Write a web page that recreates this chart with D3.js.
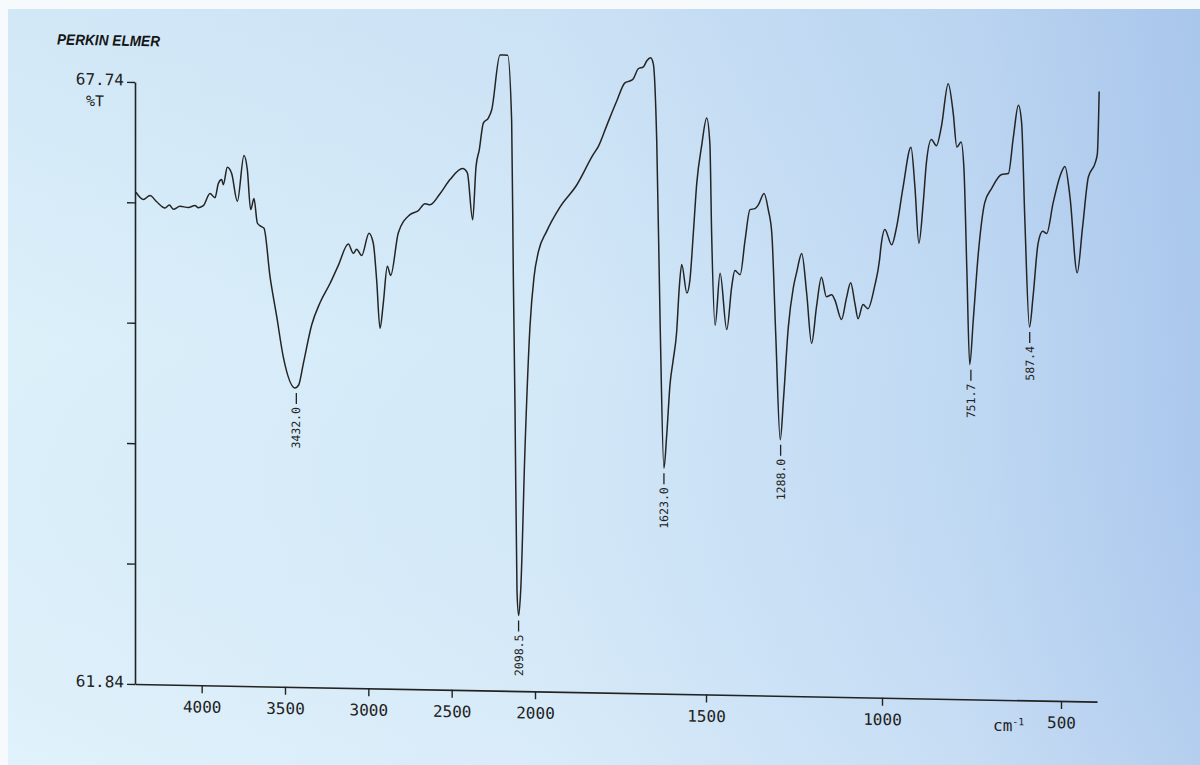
<!DOCTYPE html>
<html>
<head>
<meta charset="utf-8">
<script src="https://cdn.jsdelivr.net/npm/d3@7"></script>
<style>
  body { margin: 0; background: #fff; }
  svg { display: block; }
</style>
</head>
<body>
<svg id="chart"></svg>
<script>
// IR spectrum: wavenumber (cm-1) and %T
const wavenumbers = [
  4394, 4350, 4310, 4270, 4220, 4194, 4170, 4130, 4080, 4040, 4020, 3990,
  3950, 3920, 3900, 3880, 3870, 3846, 3820, 3786, 3746, 3726, 3706, 3686,
  3666, 3646, 3626, 3590, 3550, 3510, 3440, 3418, 3390, 3340, 3290, 3230,
  3180, 3120, 3090, 3070, 3040, 2996, 2970, 2950, 2930, 2910, 2886, 2866,
  2820, 2750, 2700, 2660, 2630, 2570, 2510, 2434, 2406, 2374, 2354, 2334,
  2310, 2280, 2260, 2210, 2164, 2140, 2130, 2120, 2108, 2098, 2086, 2060,
  2030, 2006, 1990, 1966, 1927, 1878, 1830, 1815, 1790, 1761, 1737, 1722,
  1713, 1698, 1683, 1673, 1662, 1654, 1644, 1634, 1623, 1615, 1605, 1596,
  1586, 1578, 1571, 1556, 1547, 1537, 1527, 1513, 1498, 1489, 1484, 1474,
  1460, 1441, 1427, 1418, 1403, 1389, 1375, 1361, 1351, 1335, 1323, 1313,
  1302, 1289, 1280, 1266, 1252, 1242, 1228, 1214, 1200, 1186, 1172, 1158,
  1143, 1134, 1115, 1101, 1089, 1077, 1068, 1054, 1040, 1021, 1007, 1003,
  992, 973, 959, 941, 919, 908, 897, 885, 876, 862, 848, 834,
  815, 801, 791, 779, 771, 763, 755, 745, 731, 713, 694, 666,
  647, 633, 619, 610, 601, 588, 578, 564, 551, 540, 522, 503,
  489, 475, 455, 440, 424, 405, 399, 394
];
const transmittance = [
  66.66, 66.59, 66.63, 66.57, 66.51, 66.54, 66.50, 66.53, 66.52, 66.54, 66.52, 66.54,
  66.66, 66.62, 66.76, 66.80, 66.75, 66.92, 66.86, 66.59, 67.04, 66.90, 66.51, 66.62,
  66.38, 66.35, 66.33, 65.86, 65.47, 65.07, 64.77, 64.80, 65.01, 65.39, 65.61, 65.80,
  65.98, 66.19, 66.10, 66.14, 66.08, 66.30, 66.20, 65.84, 65.37, 65.62, 65.98, 65.89,
  66.31, 66.49, 66.53, 66.60, 66.59, 66.70, 66.84, 66.95, 66.91, 66.45, 66.97, 67.14,
  67.40, 67.45, 67.53, 68.07, 68.07, 67.42, 65.90, 64.62, 62.82, 62.58, 62.82, 64.22,
  65.42, 65.90, 66.15, 66.35, 66.59, 66.81, 67.11, 67.19, 67.40, 67.64, 67.82, 67.84,
  67.86, 67.96, 67.98, 68.04, 68.07, 68.01, 67.25, 65.45, 64.05, 64.37, 64.88, 65.11,
  65.38, 65.83, 66.05, 65.77, 65.90, 66.36, 66.85, 67.21, 67.49, 67.24, 66.36, 65.46,
  65.97, 65.42, 65.84, 66.00, 65.96, 66.30, 66.60, 66.61, 66.65, 66.76, 66.60, 66.37,
  65.39, 64.35, 64.74, 65.46, 65.84, 66.00, 66.18, 65.79, 65.30, 65.66, 65.95, 65.76,
  65.78, 65.73, 65.54, 65.75, 65.90, 65.70, 65.55, 65.69, 65.65, 65.87, 66.13, 66.26,
  66.43, 66.28, 66.46, 66.85, 67.24, 66.85, 66.30, 66.69, 67.09, 67.32, 67.26, 67.45,
  67.87, 67.58, 67.25, 67.30, 67.03, 66.05, 65.12, 65.56, 66.21, 66.71, 66.85, 66.99,
  67.00, 67.36, 67.67, 67.50, 66.55, 65.50, 65.80, 66.32, 66.44, 66.42, 66.72, 66.98,
  67.08, 66.78, 66.04, 66.49, 66.98, 67.12, 67.21, 67.82
];

const peakWavenumbers = [3432.0, 2098.5, 1623.0, 1288.0, 751.7, 587.4];
const peakLabels = ["3432.0", "2098.5", "1623.0", "1288.0", "751.7", "587.4"];

const xTicks = [4000, 3500, 3000, 2500, 2000, 1500, 1000, 500];
const yTicks = [67.74, 66.56, 65.38, 64.20, 63.02, 61.84];
const yLabelled = [67.74, 61.84];

const width = 1200;
const height = 765;
const mono = "'DejaVu Sans Mono', monospace";
const ink = "#222";

const svg = d3.select("#chart").attr("width", width).attr("height", height);

// paper background (photo of a blueish printout)
const defs = svg.append("defs");
const hGrad = defs.append("linearGradient").attr("id", "paper").attr("x1", 0).attr("x2", 1).attr("y1", 0).attr("y2", 0);
[[0, "#dcf0fa"], [0.45, "#d4e9f8"], [0.8, "#c0d9f3"], [1, "#abc8ed"]].forEach(([o, c]) =>
  hGrad.append("stop").attr("offset", o).attr("stop-color", c));
const vGrad = defs.append("linearGradient").attr("id", "shade").attr("x1", 0).attr("x2", 0).attr("y1", 0).attr("y2", 1);
vGrad.append("stop").attr("offset", 0).attr("stop-color", "#9dbbe4").attr("stop-opacity", 0.16);
vGrad.append("stop").attr("offset", 0.45).attr("stop-color", "#9dbbe4").attr("stop-opacity", 0);
vGrad.append("stop").attr("offset", 1).attr("stop-color", "#ffffff").attr("stop-opacity", 0.12);

svg.append("rect").attr("width", width).attr("height", height).attr("fill", "url(#paper)");
svg.append("rect").attr("width", width).attr("height", height).attr("fill", "url(#shade)");
svg.append("rect").attr("width", 8).attr("height", height).attr("fill", "#f6fafd");
svg.append("rect").attr("width", width).attr("height", 9).attr("fill", "#f6fafd");

const x = d3.scaleLinear()
  .domain([4400, 2000, 1500, 1000, 500, 400])
  .range([135, 535, 706, 882, 1061, 1097]);

const y = d3.scaleLinear().domain([61.84, 67.74]).range([684, 82]);

// the sheet sits slightly askew in the photo
const g = svg.append("g")
  .attr("transform", "translate(135,684) skewY(1.05) translate(-135,-684)");

g.append("text")
  .attr("x", 57).attr("y", 46)
  .attr("font-family", "'Liberation Sans', Arial, sans-serif")
  .attr("font-weight", "bold").attr("font-style", "italic")
  .attr("font-size", 15).attr("textLength", 103).attr("lengthAdjust", "spacingAndGlyphs")
  .attr("fill", "#151515")
  .text("PERKIN ELMER");

const xAxis = d3.axisBottom(x)
  .tickValues(xTicks)
  .tickSize(8).tickSizeOuter(0).tickPadding(8)
  .tickFormat(d3.format("d"));

const yAxis = d3.axisLeft(y)
  .tickValues(yTicks)
  .tickSize(8).tickSizeOuter(0).tickPadding(3)
  .tickFormat((d) => (yLabelled.includes(d) ? d.toFixed(2) : ""));

const gx = g.append("g").attr("transform", `translate(0,${y(61.84)})`).call(xAxis);
const gy = g.append("g").attr("transform", `translate(${x(4400)},0)`).call(yAxis);

[gx, gy].forEach((ax) => {
  ax.select(".domain").attr("stroke", ink).attr("stroke-width", 1.6);
  ax.selectAll(".tick line").attr("stroke", ink).attr("stroke-width", 1.4);
  ax.selectAll(".tick text").attr("font-family", mono).attr("font-size", 16).attr("fill", ink);
});
gy.selectAll(".tick text").attr("dy", "0.2em");

g.append("text")
  .attr("x", 95).attr("y", y(67.74) + 25)
  .attr("text-anchor", "middle")
  .attr("font-family", mono).attr("font-size", 15).attr("fill", ink)
  .text("%T");

const unit = g.append("text")
  .attr("x", x(500) - 68).attr("y", y(61.84) + 31)
  .attr("font-family", mono).attr("font-size", 16).attr("fill", ink)
  .text("cm");
unit.append("tspan").attr("dy", -6).attr("font-size", 10).text("-1");

const points = wavenumbers.map((w, i) => ({ w, t: transmittance[i] }));

const line = d3.line()
  .x((d) => x(d.w))
  .y((d) => y(d.t))
  .curve(d3.curveMonotoneX);

g.append("path")
  .datum(points)
  .attr("fill", "none")
  .attr("stroke", "#242424")
  .attr("stroke-width", 1.5)
  .attr("stroke-linejoin", "round")
  .attr("d", line);

// peak markers below each labelled minimum
peakWavenumbers.forEach((pw, i) => {
  const near = points.filter((p) => Math.abs(p.w - pw) < 20);
  const tMin = d3.min(near, (p) => p.t);
  const px = x(pw);
  const py = y(tMin);
  g.append("line")
    .attr("x1", px).attr("x2", px)
    .attr("y1", py + 5).attr("y2", py + 16)
    .attr("stroke", ink).attr("stroke-width", 1.3);
  g.append("text")
    .attr("transform", `translate(${px},${py + 19}) rotate(-90)`)
    .attr("text-anchor", "end")
    .attr("dominant-baseline", "central")
    .attr("font-family", mono).attr("font-size", 11.5).attr("fill", ink)
    .text(peakLabels[i]);
});
</script>
</body>
</html>
